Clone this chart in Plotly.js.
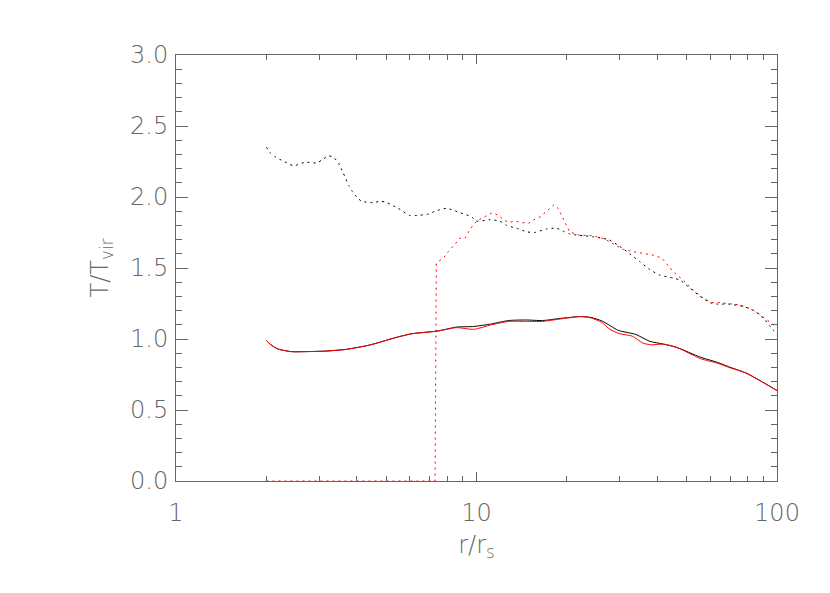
<!DOCTYPE html>
<html>
<head>
<meta charset="utf-8">
<script src="https://cdn.plot.ly/plotly-3.0.1.min.js"></script>
<style>
  html, body { margin: 0; padding: 0; background: #fff; }
  #plot { width: 830px; height: 593px; }
</style>
</head>
<body>
<div id="plot"></div>
<script>
// black dotted (upper curve)
var rDotBlack = [2.0, 2.06, 2.15, 2.34, 2.46, 2.69, 2.94, 3.08, 3.21, 3.34, 3.47, 3.60, 3.76, 3.86, 3.99, 4.15, 4.53, 4.80, 5.03, 5.49, 6.0, 6.33, 6.92, 7.28, 7.95, 8.8, 9.63, 10.0, 11.1, 11.95, 12.6, 13.6, 14.7, 15.6, 17.1, 18.5, 19.4, 20.4, 22.0, 24.5, 26.1, 27.5, 29.6, 32.4, 34.9, 37.7, 40.7, 45.1, 47.5, 51.4, 55.5, 59.9, 63.1, 68.9, 77.5, 83.8, 90.2, 95.0, 100.0];
var tDotBlack = [2.35, 2.31, 2.28, 2.24, 2.22, 2.245, 2.24, 2.265, 2.29, 2.28, 2.24, 2.17, 2.08, 2.04, 2.00, 1.97, 1.96, 1.97, 1.96, 1.92, 1.87, 1.87, 1.88, 1.90, 1.92, 1.89, 1.86, 1.83, 1.84, 1.83, 1.80, 1.78, 1.755, 1.75, 1.775, 1.78, 1.76, 1.74, 1.73, 1.72, 1.71, 1.70, 1.66, 1.60, 1.545, 1.49, 1.45, 1.43, 1.415, 1.357, 1.30, 1.256, 1.246, 1.246, 1.228, 1.20, 1.146, 1.087, 1.03];

// red dotted (zero until the jump)
var rDotRed = [2.0, 7.28, 7.35, 7.45, 7.76, 8.05, 8.5, 8.8, 9.16, 9.5, 10.0, 10.4, 10.8, 11.3, 11.85, 12.3, 12.8, 13.4, 14.1, 14.9, 15.5, 16.3, 17.1, 17.8, 18.1, 18.7, 19.2, 19.7, 20.4, 22.0, 23.8, 25.8, 27.8, 29.2, 30.8, 33.3, 35.5, 38.8, 41.4, 43.0, 45.1, 48.7, 52.6, 56.9, 60.7, 64.7, 70.0, 75.4, 79.3, 83.8, 88.1, 92.6, 99.0, 100.0];
var tDotRed = [0, 0, 1.53, 1.545, 1.57, 1.615, 1.67, 1.71, 1.71, 1.77, 1.83, 1.85, 1.87, 1.89, 1.87, 1.84, 1.82, 1.83, 1.82, 1.815, 1.84, 1.86, 1.90, 1.93, 1.945, 1.92, 1.87, 1.815, 1.755, 1.73, 1.73, 1.715, 1.685, 1.657, 1.63, 1.615, 1.605, 1.59, 1.57, 1.53, 1.475, 1.415, 1.345, 1.287, 1.256, 1.256, 1.246, 1.24, 1.223, 1.20, 1.17, 1.134, 1.087, 1.08];

// black solid
var rSolidBlack = [2.0, 2.07, 2.18, 2.42, 2.69, 3.15, 3.69, 4.44, 5.34, 6.09, 7.42, 8.58, 9.79, 11.2, 12.8, 14.6, 16.6, 19.0, 22.2, 24.0, 26.1, 27.8, 29.6, 33.9, 37.7, 41.9, 46.5, 55.6, 63.5, 69.0, 79.3, 100.0];
var tSolidBlack = [0.989, 0.959, 0.930, 0.911, 0.911, 0.915, 0.927, 0.959, 1.008, 1.037, 1.056, 1.084, 1.088, 1.106, 1.130, 1.134, 1.130, 1.145, 1.158, 1.152, 1.128, 1.095, 1.061, 1.032, 0.984, 0.964, 0.940, 0.872, 0.835, 0.805, 0.758, 0.637];

// red solid
var rSolidRed = [2.0, 2.07, 2.18, 2.42, 2.69, 3.15, 3.69, 4.44, 5.34, 6.09, 7.42, 8.58, 9.79, 11.2, 12.8, 14.6, 16.6, 19.0, 22.2, 24.0, 26.1, 27.8, 30.0, 33.0, 35.8, 38.2, 41.9, 46.5, 55.6, 63.5, 69.0, 79.3, 100.0];
var tSolidRed = [0.989, 0.959, 0.930, 0.911, 0.911, 0.915, 0.927, 0.959, 1.008, 1.037, 1.056, 1.080, 1.068, 1.100, 1.124, 1.124, 1.124, 1.141, 1.158, 1.149, 1.117, 1.068, 1.037, 1.020, 0.971, 0.959, 0.964, 0.940, 0.862, 0.829, 0.801, 0.758, 0.637];

var dotted = '2px,4px';

var data = [
  {x: rDotBlack, y: tDotBlack, mode: 'lines', line: {color: '#000', width: 1, dash: dotted, shape: 'spline', smoothing: 0.6}},
  {x: rDotRed, y: tDotRed, mode: 'lines', line: {color: '#ff0000', width: 1, dash: dotted}},
  {x: rSolidBlack, y: tSolidBlack, mode: 'lines', line: {color: '#000', width: 1, shape: 'spline', smoothing: 0.6}},
  {x: rSolidRed, y: tSolidRed, mode: 'lines', line: {color: '#ff0000', width: 1, shape: 'spline', smoothing: 0.6}}
];

var axisFont = {family: 'DejaVu Sans ExtraLight, DejaVu Sans', size: 24, color: '#666', weight: 200};

var layout = {
  width: 830,
  height: 593,
  margin: {l: 176, r: 53, t: 55, b: 112},
  paper_bgcolor: '#fff',
  plot_bgcolor: '#fff',
  showlegend: false,
  font: axisFont,
  xaxis: {
    type: 'log',
    range: [0, 2],
    tickvals: [1, 10, 100],
    ticktext: ['1', '10', '100'],
    ticks: 'inside',
    ticklen: 9,
    tickcolor: '#666',
    tickfont: axisFont,
    ticklabelstandoff: 10,
    showline: true,
    linecolor: '#666',
    linewidth: 1,
    mirror: 'ticks',
    showgrid: false,
    zeroline: false,
    minor: {dtick: 'D1', ticks: 'inside', ticklen: 5, tickcolor: '#666', showgrid: false},
    title: {text: 'r/r<sub>s</sub>', font: axisFont, standoff: 10}
  },
  yaxis: {
    range: [0, 3],
    dtick: 0.5,
    tickformat: '.1f',
    ticks: 'inside',
    ticklen: 12,
    tickcolor: '#666',
    tickfont: axisFont,
    ticklabelstandoff: 2,
    showline: true,
    linecolor: '#666',
    linewidth: 1,
    mirror: 'ticks',
    showgrid: false,
    zeroline: false,
    minor: {dtick: 0.1, ticks: 'inside', ticklen: 6, tickcolor: '#666', showgrid: false},
    title: {text: 'T/T<sub>vir</sub>', font: axisFont, standoff: 14}
  }
};

Plotly.newPlot('plot', data, layout, {displayModeBar: false, staticPlot: true});
</script>
</body>
</html>
